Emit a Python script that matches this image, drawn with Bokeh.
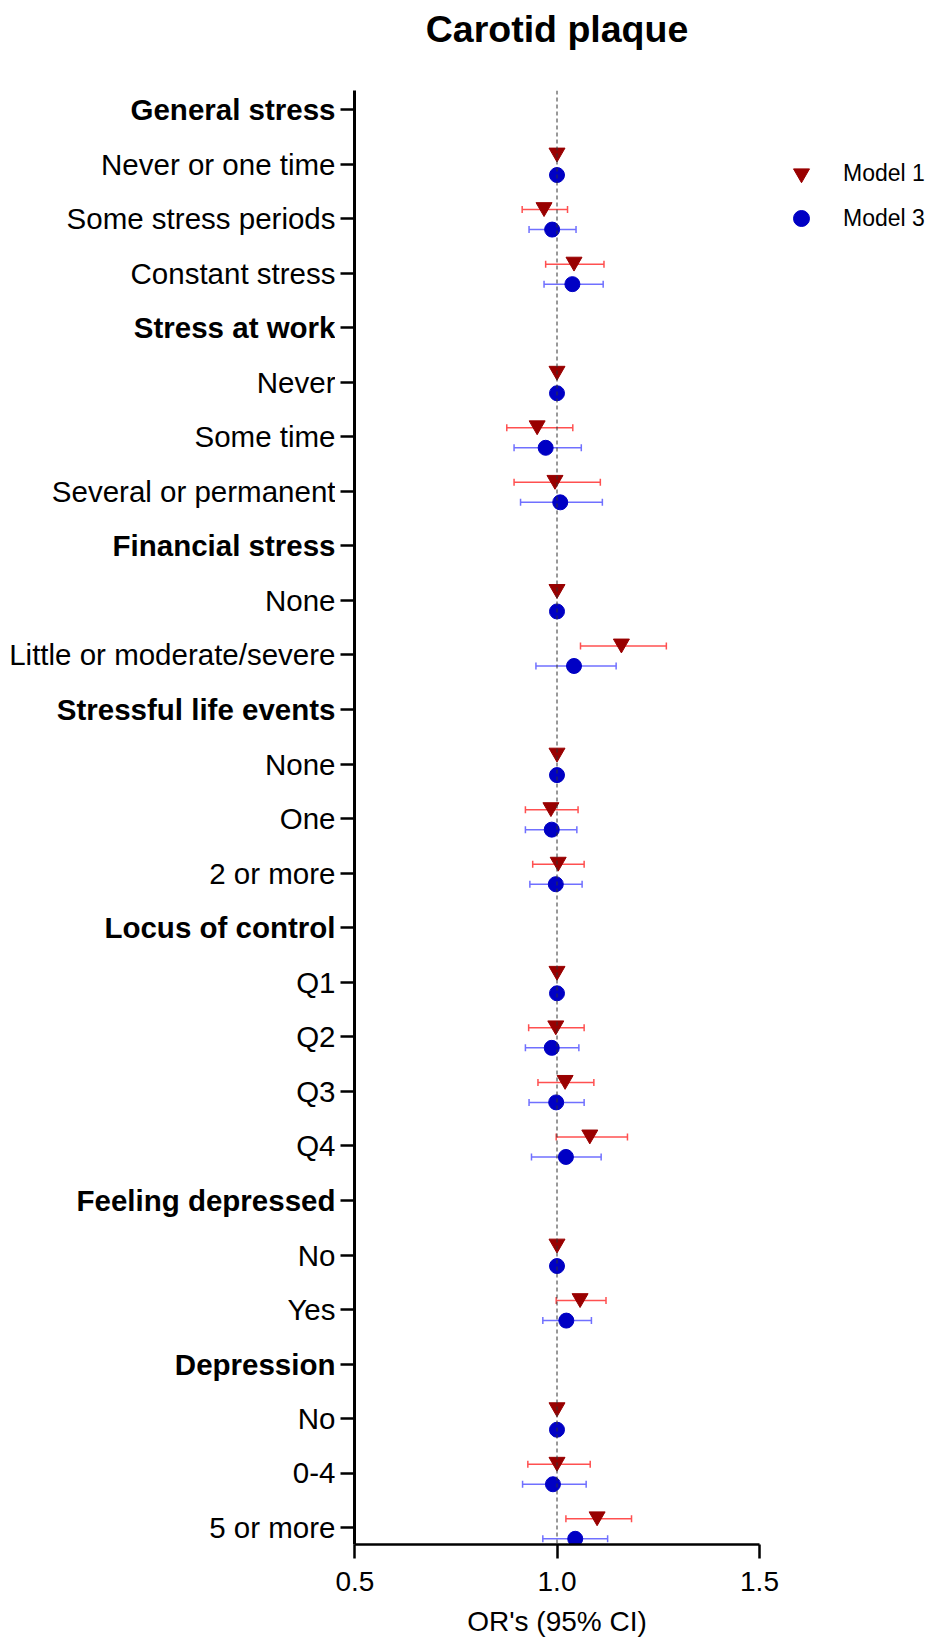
from bokeh.plotting import figure
from bokeh.models import (Range1d, FixedTicker, PrintfTickFormatter, Span, Whisker, TeeHead,
                          ColumnDataSource, Legend, LegendItem, Title)
from bokeh.layouts import row
from bokeh.core.properties import value
from bokeh.embed import file_html
from bokeh.resources import INLINE

# ---------------- data ----------------
labels = ["General stress", "Never or one time", "Some stress periods", "Constant stress",
          "Stress at work", "Never", "Some time", "Several or permanent",
          "Financial stress", "None", "Little or moderate/severe",
          "Stressful life events", "None", "One", "2 or more",
          "Locus of control", "Q1", "Q2", "Q3", "Q4",
          "Feeling depressed", "No", "Yes",
          "Depression", "No", "0-4", "5 or more"]
is_header = [1, 0, 0, 0, 1, 0, 0, 0, 1, 0, 0, 1, 0, 0, 0, 1, 0, 0, 0, 0, 1, 0, 0, 1, 0, 0, 0]

or_m1 = [None, 1.00, 0.968, 1.042, None, 1.00, 0.951, 0.995, None, 1.00, 1.159, None, 1.00, 0.985, 1.003,
         None, 1.00, 0.997, 1.020, 1.081, None, 1.00, 1.057, None, 1.00, 1.000, 1.099]
lo_m1 = [None, 1.00, 0.914, 0.972, None, 1.00, 0.876, 0.894, None, 1.00, 1.058, None, 1.00, 0.922, 0.940,
         None, 1.00, 0.930, 0.953, 0.998, None, 1.00, 0.998, None, 1.00, 0.928, 1.022]
hi_m1 = [None, 1.00, 1.026, 1.116, None, 1.00, 1.039, 1.107, None, 1.00, 1.270, None, 1.00, 1.052, 1.067,
         None, 1.00, 1.067, 1.091, 1.174, None, 1.00, 1.121, None, 1.00, 1.082, 1.184]

or_m3 = [None, 1.00, 0.988, 1.038, None, 1.00, 0.972, 1.008, None, 1.00, 1.042, None, 1.00, 0.987, 0.997,
         None, 1.00, 0.987, 0.998, 1.022, None, 1.00, 1.023, None, 1.00, 0.990, 1.045]
lo_m3 = [None, 1.00, 0.931, 0.968, None, 1.00, 0.894, 0.910, None, 1.00, 0.948, None, 1.00, 0.922, 0.933,
         None, 1.00, 0.922, 0.931, 0.937, None, 1.00, 0.965, None, 1.00, 0.915, 0.965]
hi_m3 = [None, 1.00, 1.047, 1.114, None, 1.00, 1.060, 1.112, None, 1.00, 1.146, None, 1.00, 1.049, 1.062,
         None, 1.00, 1.054, 1.067, 1.109, None, 1.00, 1.085, None, 1.00, 1.072, 1.125]

series_names = ["Model 1", "Model 3"]
x_ticks = [0.5, 1.0, 1.5]
reference_value = 1.0
title_text = "Carotid plaque"
x_title = "OR's (95% CI)"

# ---------------- styling ----------------
FONT = "Liberation Sans"
PX_ROW = 54.55                      # pixels per category row
FRAME_TOP = 90
FRAME_H = 1454
FRAME_W = 405
LABEL_W = 335

Y_BOTTOM = 26.306
Y_TOP = -0.348


def off(px):
    return px / PX_ROW


y_range = Range1d(start=Y_BOTTOM, end=Y_TOP)
x_range = Range1d(start=x_ticks[0], end=x_ticks[-1])


def build_source(ors, los, his, dy_bar, dy_mark):
    rows = [i for i, v in enumerate(ors) if v is not None]
    return ColumnDataSource(dict(
        ors=[ors[i] for i in rows],
        lo=[los[i] for i in rows],
        hi=[his[i] for i in rows],
        yb=[i + dy_bar for i in rows],
        ym=[i + dy_mark for i in rows],
        w=[1 if his[i] > los[i] else 0 for i in rows],
    ))


src1 = build_source(or_m1, lo_m1, hi_m1, off(-9), off(-9) - off(2.3))
src3 = build_source(or_m3, lo_m3, hi_m3, off(11), off(11))

# ---------------- label figure (left) ----------------
p1 = figure(frame_width=LABEL_W, frame_height=FRAME_H,
            x_range=Range1d(0, 1), y_range=y_range,
            x_axis_location=None, y_axis_location=None, toolbar_location=None,
            output_backend="svg", outline_line_color=None,
            min_border_left=0, min_border_right=0, min_border_top=FRAME_TOP,
            min_border_bottom=0)
p1.grid.visible = False

norm_idx = [i for i, h in enumerate(is_header) if not h]
head_idx = [i for i, h in enumerate(is_header) if h]
p1.text(x=[1] * len(norm_idx), y=norm_idx, text=[labels[i] for i in norm_idx],
        text_align="right", text_baseline="middle", text_font=value(FONT),
        text_font_size="29.5px", text_color="black")
p1.text(x=[1] * len(head_idx), y=head_idx, text=[labels[i] for i in head_idx],
        text_align="right", text_baseline="middle", text_font=value(FONT),
        text_font_size="29.5px", text_font_style="bold", text_color="black")

# ---------------- main figure ----------------
p2 = figure(frame_width=FRAME_W, frame_height=FRAME_H, x_range=x_range, y_range=y_range,
            toolbar_location=None, output_backend="svg", outline_line_color=None,
            min_border_left=19, min_border_right=172, min_border_top=FRAME_TOP, min_border_bottom=0)
p2.grid.visible = False

# spacer between the frame and the title (closest to the frame)
p2.add_layout(Title(text=" ", text_font=FONT, text_font_size="24px", standoff=3), "above")
# the real title (outermost)
p2.add_layout(Title(text=title_text, align="center", vertical_align="top", text_font=FONT,
                    text_font_size="37.5px", text_font_style="bold", text_color="black",
                    standoff=14), "above")

# x axis
xa = p2.xaxis[0]
xa.ticker = FixedTicker(ticks=x_ticks)
xa.formatter = PrintfTickFormatter(format="%.1f")
xa.minor_tick_line_color = None
xa.major_tick_in = 0
xa.major_tick_out = 14
xa.major_tick_line_width = 2.5
xa.axis_line_width = 2.5
xa.axis_line_color = "black"
xa.major_tick_line_color = "black"
xa.major_label_text_font = FONT
xa.major_label_text_font_size = "28px"
xa.major_label_text_color = "black"
xa.major_label_standoff = 13
xa.axis_label = x_title
xa.axis_label_text_font = FONT
xa.axis_label_text_font_size = "28px"
xa.axis_label_text_font_style = "normal"
xa.axis_label_text_color = "black"
xa.axis_label_standoff = 12

# y axis (ticks + line only; labels drawn in the left figure)
ya = p2.yaxis[0]
ya.ticker = FixedTicker(ticks=list(range(len(labels))))
ya.major_label_overrides = {i: "" for i in range(len(labels))}
ya.minor_tick_line_color = None
ya.major_tick_in = 0
ya.major_tick_out = 14
ya.major_tick_line_width = 2.5
ya.axis_line_width = 3
ya.axis_line_color = "black"
ya.major_tick_line_color = "black"
ya.major_label_standoff = 0

# reference line
p2.add_layout(Span(location=reference_value, dimension="height", line_color="#333333",
                   line_width=1, line_dash="4 3"))

# error bars
for src, col in ((src1, "#ff5050"), (src3, "#7070ff")):
    view_src = ColumnDataSource({k: [v for v, w in zip(src.data[k], src.data["w"]) if w]
                                 for k in src.data})
    wk = Whisker(source=view_src, base="yb", lower="lo", upper="hi", dimension="width",
                 line_color=col, line_width=1.5,
                 upper_head=TeeHead(size=7, line_color=col, line_width=1.5),
                 lower_head=TeeHead(size=7, line_color=col, line_width=1.5))
    p2.add_layout(wk)

r1 = p2.scatter(x="ors", y="ym", source=src1, marker="inverted_triangle", size=16,
                fill_color="#990000", line_color="#990000")
r3 = p2.scatter(x="ors", y="ym", source=src3, marker="circle", size=15,
                fill_color="#0000c4", line_color="#0000c4")

legend = Legend(items=[LegendItem(label=series_names[0], renderers=[r1]),
                       LegendItem(label=series_names[1], renderers=[r3])],
                location=(22, 1306), glyph_width=40, glyph_height=40, spacing=5,
                label_standoff=22, padding=0, margin=0, border_line_color=None,
                background_fill_alpha=0, label_text_font=FONT, label_text_font_size="23px",
                label_text_color="black")
p2.add_layout(legend, "right")

layout = row(p1, p2, spacing=0)

open("out.html", "w").write(file_html(layout, INLINE))
